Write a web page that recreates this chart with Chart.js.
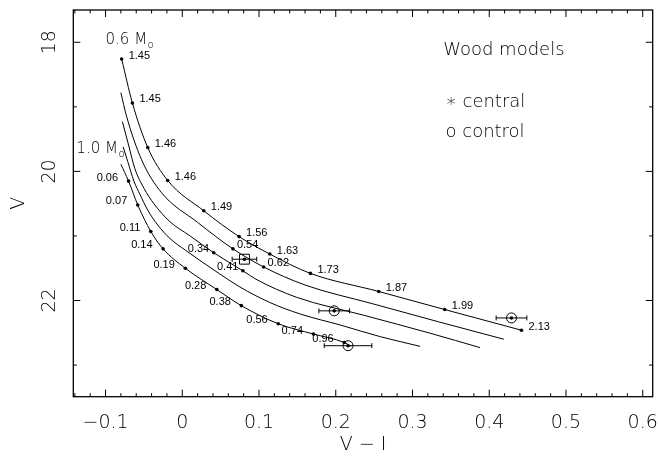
<!DOCTYPE html>
<html>
<head>
<meta charset="utf-8">
<script src="https://cdn.jsdelivr.net/npm/chart.js@4/dist/chart.umd.min.js"></script>
<style>
  html, body { margin: 0; padding: 0; background: #fff; }
  #wrap { width: 658px; height: 464px; }
</style>
</head>
<body>
<div id="wrap"><canvas id="cmd" width="658" height="464"></canvas></div>
<script>
// White dwarf cooling tracks (Wood models) in the V, V-I plane.
// 0.6 Msun track: every vertex carries an age label (Gyr)
const vi06 = [-0.079, -0.065, -0.045, -0.019, 0.028, 0.074, 0.114, 0.167, 0.256, 0.342, 0.442];
const v06  = [18.26, 18.94, 19.63, 20.14, 20.61, 21.01, 21.28, 21.58, 21.86, 22.14, 22.46];
const age06 = ['1.45', '1.45', '1.46', '1.46', '1.49', '1.56', '1.63', '1.73', '1.87', '1.99', '2.13'];

// 0.7 Msun track
const vi07 = [-0.080, -0.073, -0.053, -0.027, 0.020, 0.066, 0.106, 0.160, 0.248, 0.334, 0.419];
const v07  = [18.78, 19.13, 19.82, 20.33, 20.79, 21.20, 21.48, 21.76, 22.05, 22.33, 22.60];
const dotVI07 = [0.066, 0.106];
const dotV07  = [21.20, 21.48];
const age07 = ['0.54', '0.62'];

// 0.8 Msun track
const vi08 = [-0.078, -0.070, -0.062, -0.050, -0.037, -0.016, 0.009, 0.041, 0.079, 0.096, 0.149, 0.237, 0.324, 0.388];
const v08  = [19.23, 19.59, 19.95, 20.26, 20.50, 20.78, 20.99, 21.26, 21.54, 21.67, 21.95, 22.23, 22.51, 22.73];
const dotVI08 = [0.041, 0.079];
const dotV08  = [21.26, 21.54];
const age08 = ['0.34', '0.41'];

// 0.9 Msun track
const vi09 = [-0.077, -0.071, -0.063, -0.055, -0.045, -0.032, -0.016, 0.004, 0.023, 0.049, 0.075, 0.114, 0.154, 0.206, 0.258, 0.310];
const v09  = [19.62, 19.85, 20.15, 20.36, 20.60, 20.83, 21.04, 21.22, 21.38, 21.59, 21.79, 22.03, 22.21, 22.38, 22.56, 22.71];

// 1.0 Msun track
const vi10 = [-0.080, -0.070, -0.058, -0.041, -0.025, 0.004, 0.045, 0.077, 0.125, 0.171, 0.211, 0.220];
const v10  = [19.89, 20.15, 20.52, 20.93, 21.20, 21.50, 21.83, 22.08, 22.36, 22.52, 22.65, 22.71];
const dotVI10 = [-0.070, -0.058, -0.041, -0.025, 0.004, 0.045, 0.077, 0.125, 0.171, 0.211];
const dotV10  = [20.15, 20.52, 20.93, 21.20, 21.50, 21.83, 22.08, 22.36, 22.52, 22.65];
const age10 = ['0.06', '0.07', '0.11', '0.14', '0.19', '0.28', '0.38', '0.56', '0.74', '0.96'];

// Observed stars with V-I errors
const ctrlVI  = [0.198, 0.216, 0.429];
const ctrlV   = [22.16, 22.70, 22.27];
const ctrlErr = [0.020, 0.031, 0.020];
const centVI  = [0.081];
const centV   = [21.36];
const centErr = [0.016];

// Axis ticks
const xMajorTicks = [-0.1, 0, 0.1, 0.2, 0.3, 0.4, 0.5, 0.6];
const yMajorTicks = [18, 20, 22];

const pts = (xs, ys) => xs.map((x, i) => ({ x: x, y: ys[i] }));

const thin = { family: "'DejaVu Sans'", size: 19, weight: '200' };

const track = (xs, ys) => ({
  data: pts(xs, ys), showLine: true, pointRadius: 0, borderColor: '#000',
  borderWidth: 1, cubicInterpolationMode: 'monotone', fill: false
});
const dots = (xs, ys) => ({
  data: pts(xs, ys), showLine: false, pointRadius: 1.8, pointBackgroundColor: '#000',
  pointBorderWidth: 0
});

// keep the plot frame fixed: no extra room reserved for edge labels
const fixBox = (size, key) => s => {
  s[key] = size;
  s.paddingTop = 0; s.paddingBottom = 0; s.paddingLeft = 0; s.paddingRight = 0;
};

const overlay = {
  id: 'overlay',
  afterDatasetsDraw(chart) {
    const { ctx, chartArea: a, scales: { x, y } } = chart;
    ctx.save();
    ctx.strokeStyle = '#000';
    ctx.fillStyle = '#000';

    const seg = (x1, y1, x2, y2) => { ctx.beginPath(); ctx.moveTo(x1, y1); ctx.lineTo(x2, y2); ctx.stroke(); };

    // frame
    ctx.lineWidth = 1.3;
    ctx.strokeRect(a.left, a.top, a.right - a.left, a.bottom - a.top);

    // inward tick marks on all four sides
    ctx.lineWidth = 1;
    for (let i = -7; i <= 31; i++) {
      const v = i * 0.02;
      if (v < x.min || v > x.max) continue;
      const px = x.getPixelForValue(v);
      const len = (i % 5 === 0) ? 7 : 3.5;
      seg(px, a.bottom, px, a.bottom - len);
      seg(px, a.top, px, a.top + len);
    }
    for (let v = 18; v <= 23; v++) {
      const py = y.getPixelForValue(v);
      const len = (v % 2 === 0) ? 7 : 3.5;
      seg(a.left, py, a.left + len, py);
      seg(a.right, py, a.right - len, py);
    }

    // horizontal error bars
    const bars = (xs, ys, es) => xs.forEach((vi, i) => {
      const py = y.getPixelForValue(ys[i]);
      const l = x.getPixelForValue(vi - es[i]);
      const r = x.getPixelForValue(vi + es[i]);
      seg(l, py, r, py);
      seg(l, py - 2.5, l, py + 2.5);
      seg(r, py - 2.5, r, py + 2.5);
    });
    bars(ctrlVI, ctrlV, ctrlErr);
    bars(centVI, centV, centErr);

    // age labels next to the track vertices
    ctx.font = "11px 'Liberation Sans'";
    ctx.textBaseline = 'middle';
    const tag = (xs, ys, txt, dx, align) => {
      ctx.textAlign = align;
      xs.forEach((vi, i) => {
        ctx.fillText(txt[i], x.getPixelForValue(vi) + dx, y.getPixelForValue(ys[i]) - 3.5);
      });
    };
    tag(vi06, v06, age06, 7, 'left');
    tag(dotVI07, dotV07, age07, 4, 'left');
    tag(dotVI08, dotV08, age08, -4.5, 'right');
    tag(dotVI10, dotV10, age10, -10.5, 'right');

    // mass labels
    ctx.textBaseline = 'alphabetic';
    ctx.textAlign = 'left';
    const mass = (txt, vi, v) => {
      const px = x.getPixelForValue(vi), py = y.getPixelForValue(v);
      ctx.font = "200 15px 'DejaVu Sans'";
      ctx.fillText(txt, px, py);
      const w = ctx.measureText(txt).width;
      ctx.font = "200 10px 'DejaVu Sans'";
      ctx.fillText('o', px + w + 0.5, py + 4);
    };
    mass('0.6 M', -0.100, 18.03);
    mass('1.0 M', -0.138, 19.72);

    // key
    ctx.font = "200 18px 'DejaVu Sans'";
    ctx.fillText('Wood models', x.getPixelForValue(0.340), y.getPixelForValue(18.20));
    ctx.fillText('\u2217 central', x.getPixelForValue(0.343), y.getPixelForValue(19.00));
    ctx.fillText('o control', x.getPixelForValue(0.343), y.getPixelForValue(19.46));

    ctx.restore();
  }
};

new Chart(document.getElementById('cmd'), {
  type: 'scatter',
  data: {
    datasets: [
      track(vi06, v06), track(vi07, v07), track(vi08, v08), track(vi09, v09), track(vi10, v10),
      dots(vi06, v06), dots(dotVI07, dotV07), dots(dotVI08, dotV08), dots(dotVI10, dotV10),
      { data: pts(ctrlVI, ctrlV), pointStyle: 'circle', pointRadius: 5, pointBorderColor: '#000',
        pointBorderWidth: 1, pointBackgroundColor: 'rgba(0,0,0,0)' },
      { data: pts(centVI, centV), pointStyle: 'rect', pointRadius: 7, pointBorderColor: '#000',
        pointBorderWidth: 1, pointBackgroundColor: 'rgba(0,0,0,0)' },
      dots(ctrlVI, ctrlV), dots(centVI, centV)
    ]
  },
  options: {
    responsive: false,
    animation: false,
    devicePixelRatio: 1,
    layout: { autoPadding: false, padding: { top: 10, right: 5.3, left: 0, bottom: 0 } },
    plugins: { legend: { display: false }, tooltip: { enabled: false } },
    scales: {
      x: {
        type: 'linear', position: 'bottom', min: -0.142, max: 0.613,
        grid: { display: false, drawTicks: false }, border: { display: false },
        afterFit: fixBox(67.3, 'height'),
        afterBuildTicks: s => { s.ticks = xMajorTicks.map(v => ({ value: v })); },
        ticks: {
          font: thin, color: '#000', padding: 15,
          callback: v => (Math.abs(v) < 1e-9 ? '0' : v.toFixed(1).replace('-', '\u2212'))
        },
        title: { display: true, text: 'V \u2212 I', font: thin, color: '#000', padding: { bottom: 7.6, top: 0 } }
      },
      y: {
        type: 'linear', position: 'left', reverse: true, min: 17.5, max: 23.49,
        grid: { display: false, drawTicks: false }, border: { display: false },
        afterFit: fixBox(73.3, 'width'),
        afterBuildTicks: s => { s.ticks = yMajorTicks.map(v => ({ value: v })); },
        ticks: {
          font: thin, color: '#000', padding: 11, minRotation: 90, maxRotation: 90,
          crossAlign: 'center', callback: v => String(v)
        },
        title: { display: true, text: 'V', font: thin, color: '#000', padding: { top: 8, bottom: 0 } }
      }
    }
  },
  plugins: [overlay]
});
</script>
</body>
</html>
